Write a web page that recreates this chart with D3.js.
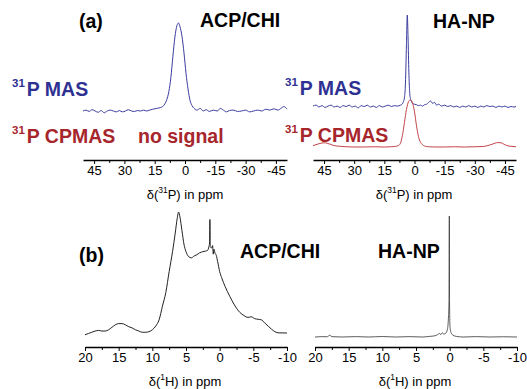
<!DOCTYPE html>
<html>
<head>
<meta charset="utf-8">
<script src="https://cdn.jsdelivr.net/npm/d3@7"></script>
<style>
  body { margin: 0; background: #fff; }
  svg { display: block; }
  text { font-family: "Liberation Sans", Arial, sans-serif; }
</style>
</head>
<body>
<div id="chart"></div>
<script>
// tick values
const p31Ticks = [45, 30, 15, 0, -15, -30, -45];
const p31Minor = [37.5, 22.5, 7.5, -7.5, -22.5, -37.5];
const h1Ticks = [20, 15, 10, 5, 0, -5, -10];
const h1Minor = [17.5, 12.5, 7.5, 2.5, -2.5, -7.5];

// spectra: [ppm, relative intensity]
const acpMas31P = [[50.5,0],[49,1],[47.5,-0.5],[46,1.5],[44.5,0],[43,-1.5],[41.5,0.5],[40,-2],[38.5,0],[37,1],[35.5,0],[34,-1],[32.5,0.5],[31,-1],[29.5,0],[28,1.5],[26.5,0],[25,-0.5],[23.5,0.5],[22,0],[20.5,1],[19,0],[17.5,1],[16,2],[14,3],[12,4],[10,8],[9,13],[8,22],[7,38],[6,62],[5,84],[4,97],[3.2,100],[2.5,96],[1.5,85],[0.5,66],[-0.5,43],[-1.5,25],[-2.5,12],[-3.5,6],[-4.5,3],[-6,1],[-7.5,3],[-9,0],[-10.5,1.5],[-12,-0.5],[-14,1],[-16,0],[-17.5,3],[-19,1],[-20.5,-1],[-22,0.5],[-24,1],[-26,-0.5],[-28,0],[-30,1],[-32,-1],[-34,0],[-36,1],[-38,0],[-40,2],[-42,1],[-44,2.5],[-46,1],[-47.5,3],[-49,5],[-50.5,2]];

const haMas31P = [[50.5,1],[49,2],[47.5,0],[46,1.5],[44.5,-0.5],[43,1],[41.5,2],[40,0],[38.5,1],[37,-0.5],[35.5,1.5],[34,0.5],[32.5,2],[31,0],[29.5,1],[28,-1],[26.5,1.5],[25,0.5],[23.5,2],[22,0],[20.5,1],[19,-0.5],[17.5,1.5],[16,0],[14.5,1],[13,2],[11.5,0.5],[10,1.5],[8.5,1],[7,2],[6,3.5],[5.5,6],[5,10],[4.5,26],[4,68],[3.6,100],[3.2,75],[2.8,38],[2.4,16],[2,9],[1.5,6],[1,4],[0,3],[-1,2.5],[-2,1.5],[-3,2],[-4,1],[-5,2.5],[-6,3],[-7,5],[-8,6.5],[-9,4],[-10,5],[-11,2],[-12,3],[-13.5,1],[-15,2],[-16.5,0.5],[-18,1.5],[-19.5,0],[-21,1],[-22.5,-0.5],[-24,1],[-25.5,0],[-27,1.5],[-28.5,0],[-30,1],[-31.5,-0.5],[-33,1],[-34.5,0],[-36,1.5],[-37.5,0.5],[-39,1],[-40.5,-0.5],[-42,1],[-43.5,0],[-45,1],[-46.5,-0.5],[-48,0.5],[-49.5,0],[-50.5,0.5]];

const haCp31P = [[50.5,3],[49,5],[47.5,7],[46,8.5],[45,9],[43.5,8],[42,6],[40,3],[37,1.5],[34,0.5],[30,0],[25,0],[20,0.5],[15,0],[12,0.5],[10,1],[8,3],[7,8],[6,25],[5,52],[4,80],[3,96],[2,100],[1,94],[0,75],[-1,45],[-2,22],[-3,10],[-4,5],[-5,2],[-7,0.5],[-10,0],[-15,0],[-20,0.5],[-25,0],[-30,0.5],[-34,1],[-36,2.5],[-38,5],[-40,8],[-41.5,9.5],[-43,9],[-44.5,6],[-46,3],[-48,1.5],[-50.5,0.5]];

const acp1H = [[20,1],[19.5,2],[19,3],[18.5,4],[18,4.5],[17.5,4],[17,4],[16.5,5],[16,7],[15.5,9],[15,10],[14.5,10],[14,9],[13.5,7.5],[13,6.5],[12.5,5],[12,4],[11.5,3],[11,3],[10.5,3.5],[10,5],[9.5,8],[9,13],[8.5,24],[8,35],[7.5,52],[7,68],[6.6,83],[6.3,95],[6.1,100],[5.9,96],[5.6,85],[5.3,74],[5,68],[4.6,64],[4.2,63],[3.8,64.5],[3.4,65.5],[3,67],[2.5,68],[2.1,68.5],[1.8,69],[1.6,72],[1.5,75],[1.45,94],[1.4,72],[1.2,71],[1.05,73],[0.95,66],[0.85,70],[0.7,67],[0.5,65],[0.3,60],[0,52],[-0.3,47],[-0.8,40],[-1.5,32],[-2.2,25],[-3,19],[-3.6,16.5],[-4.2,15],[-4.7,15.5],[-5.2,14],[-5.7,13.5],[-6.2,13],[-6.7,10.5],[-7.2,8],[-7.7,5.5],[-8.2,3.5],[-8.8,2.5],[-9.4,2.5],[-10,2.4]];

const ha1H = [[20,0],[19,0.3],[18.2,0.2],[17.8,1.5],[17.5,0.3],[16,0],[14,0.3],[12,0],[10,0.4],[8,0],[6,0.3],[4,0],[3,0.5],[2.2,1],[1.8,2],[1.5,3],[1.3,2],[1.1,3.5],[0.9,2.5],[0.6,3],[0.35,6],[0.2,14],[0.1,30],[0.05,100],[0.02,30],[-0.05,8],[-0.25,3],[-0.5,1.5],[-1,0.5],[-2,0],[-4,0.3],[-6,0],[-8,0.2],[-10,0]];

const svg = d3.select("#chart").append("svg")
  .attr("width", 527)
  .attr("height", 389);

const blue = "#2e3192";
const red = "#a6262c";

function drawAxis(xScale, y, ticks, minor) {
  svg.append("g")
    .attr("transform", `translate(0,${y})`)
    .call(d3.axisBottom(xScale).tickValues(minor).tickSize(3).tickFormat(""))
    .call(g => g.select(".domain").remove())
    .call(g => g.selectAll("line").attr("stroke", "#000"));
  const ax = svg.append("g")
    .attr("transform", `translate(0,${y})`)
    .call(d3.axisBottom(xScale).tickValues(ticks).tickSize(4).tickSizeOuter(0).tickPadding(2)
      .tickFormat(d => String(d)));
  ax.select(".domain").attr("stroke", "#000").attr("stroke-width", 1.4);
  ax.selectAll("line").attr("stroke", "#000");
  ax.selectAll("text")
    .attr("font-family", '"Liberation Sans", Arial, sans-serif')
    .attr("font-size", 13)
    .attr("fill", "#000");
}

function drawTrace(xScale, data, base, top, color, width) {
  const yScale = d3.scaleLinear().domain([0, 100]).range([base, top]);
  const line = d3.line()
    .x(d => xScale(d[0]))
    .y(d => yScale(d[1]))
    .curve(d3.curveMonotoneX);
  svg.append("path")
    .datum(data)
    .attr("d", line)
    .attr("fill", "none")
    .attr("stroke", color)
    .attr("stroke-width", width);
}

function label(x, y, txt, color, size) {
  svg.append("text")
    .attr("x", x).attr("y", y)
    .attr("font-size", size || 19.5)
    .attr("font-weight", "bold")
    .attr("fill", color || "#000")
    .text(txt);
}

function nucLabel(x, y, sup, txt, color) {
  const t = svg.append("text")
    .attr("x", x).attr("y", y)
    .attr("font-weight", "bold")
    .attr("fill", color);
  t.append("tspan").attr("font-size", 11.5).attr("dy", -9).text(sup);
  t.append("tspan").attr("font-size", 19.5).attr("dy", 9).attr("dx", 2).text(txt);
}

function axisTitle(cx, y, sup) {
  const t = svg.append("text")
    .attr("x", cx).attr("y", y)
    .attr("text-anchor", "middle")
    .attr("font-size", 13)
    .attr("fill", "#000");
  t.append("tspan").text("\u03b4(");
  t.append("tspan").attr("font-size", 8.5).attr("dy", -6).text(sup);
  t.append("tspan").attr("dy", 6).text(sup === "31" ? "P) in ppm" : "H) in ppm");
}

// (a) 31P panels
const xPL = d3.scaleLinear().domain([50.5, -50.5]).range([83, 287]);
const xPR = d3.scaleLinear().domain([50.5, -50.5]).range([313, 516]);
drawAxis(xPL, 160, p31Ticks, p31Minor);
drawAxis(xPR, 160, p31Ticks, p31Minor);
drawTrace(xPL, acpMas31P, 111, 23, "#3a3d9e", 1);
drawTrace(xPR, haMas31P, 107, 15, "#3a3d9e", 1);
drawTrace(xPR, haCp31P, 147, 100, "#c2454b", 1);
axisTitle(185, 199, "31");
axisTitle(414, 199, "31");

// (b) 1H panels
const xHL = d3.scaleLinear().domain([20, -10]).range([85, 287]);
const xHR = d3.scaleLinear().domain([20, -10]).range([315, 517]);
drawAxis(xHL, 347, h1Ticks, h1Minor);
drawAxis(xHR, 347, h1Ticks, h1Minor);
drawTrace(xHL, acp1H, 336, 212, "#222", 1);
drawTrace(xHR, ha1H, 337, 216, "#333", 0.8);
axisTitle(185, 386, "1");
axisTitle(415, 386, "1");

// labels
label(79, 28, "(a)");
label(200, 27, "ACP/CHI");
label(433, 28, "HA-NP");
nucLabel(12, 96, "31", "P MAS", blue);
nucLabel(12, 143, "31", "P CPMAS", red);
label(138, 143, "no signal", red);
nucLabel(285, 95, "31", "P MAS", blue);
nucLabel(285, 142, "31", "P CPMAS", red);
label(79, 262, "(b)");
label(240, 258, "ACP/CHI");
label(378, 258, "HA-NP");
</script>
</body>
</html>
